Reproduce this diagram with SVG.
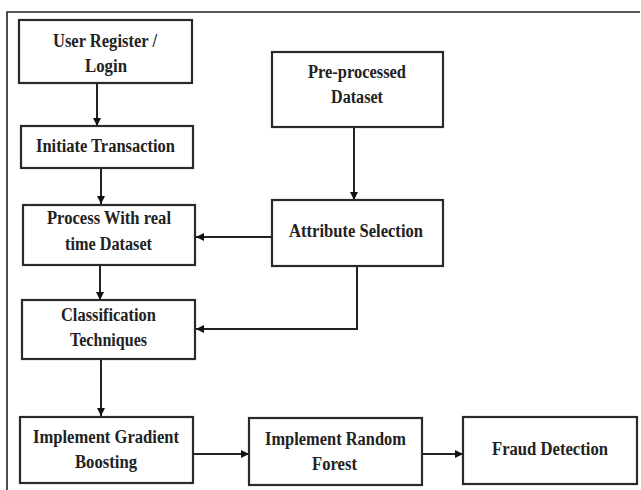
<svg xmlns="http://www.w3.org/2000/svg" width="641" height="490" viewBox="0 0 641 490">
<defs>
<style>
.box{fill:#fff;stroke:#2a2a2a;stroke-width:2.2}
.t{font-family:"Liberation Serif","Times New Roman",serif;font-weight:bold;font-size:18px;fill:#222;text-anchor:middle}
.c{fill:none;stroke:#222;stroke-width:2}
.frame{fill:none;stroke:#222;stroke-width:1.6}
</style>
<marker id="ah" viewBox="0 0 10 10" refX="10" refY="5" markerWidth="8" markerHeight="8" markerUnits="userSpaceOnUse" orient="auto">
<path d="M0,0 L10,5 L0,10 Z" fill="#111"/>
</marker>
</defs>
<rect width="641" height="490" fill="#fff"/>
<path class="frame" d="M7,490 L7,12 L640,12"/>

<g id="connectors">
<line class="c" x1="97" y1="83" x2="97" y2="126" marker-end="url(#ah)"/>
<line class="c" x1="101" y1="168" x2="101" y2="204" marker-end="url(#ah)"/>
<line class="c" x1="354" y1="127" x2="354" y2="200" marker-end="url(#ah)"/>
<line class="c" x1="272" y1="237" x2="196" y2="237" marker-end="url(#ah)"/>
<line class="c" x1="100" y1="265" x2="100" y2="300" marker-end="url(#ah)"/>
<polyline class="c" points="357,266 357,329 196,329" marker-end="url(#ah)"/>
<line class="c" x1="101" y1="359" x2="101" y2="416" marker-end="url(#ah)"/>
<line class="c" x1="193" y1="454" x2="249" y2="454" marker-end="url(#ah)"/>
<line class="c" x1="422" y1="454" x2="463" y2="454" marker-end="url(#ah)"/>
</g>

<g id="user-register">
<rect class="box" x="19" y="20" width="173" height="63"/>
<text class="t" x="105" y="47" textLength="104" lengthAdjust="spacingAndGlyphs">User Register /</text>
<text class="t" x="106" y="72" textLength="42" lengthAdjust="spacingAndGlyphs">Login</text>
</g>

<g id="initiate-transaction">
<rect class="box" x="21" y="126" width="172" height="42"/>
<text class="t" x="105.5" y="152" textLength="139" lengthAdjust="spacingAndGlyphs">Initiate Transaction</text>
</g>

<g id="process-realtime">
<rect class="box" x="23" y="205" width="172" height="60"/>
<text class="t" x="109" y="224" textLength="124" lengthAdjust="spacingAndGlyphs">Process With real</text>
<text class="t" x="108.5" y="250" textLength="87" lengthAdjust="spacingAndGlyphs">time Dataset</text>
</g>

<g id="preprocessed-dataset">
<rect class="box" x="272" y="52" width="171" height="75"/>
<text class="t" x="357" y="78" textLength="98" lengthAdjust="spacingAndGlyphs">Pre-processed</text>
<text class="t" x="357" y="103" textLength="52" lengthAdjust="spacingAndGlyphs">Dataset</text>
</g>

<g id="attribute-selection">
<rect class="box" x="272" y="200" width="171" height="66"/>
<text class="t" x="356" y="237" textLength="134" lengthAdjust="spacingAndGlyphs">Attribute Selection</text>
</g>

<g id="classification">
<rect class="box" x="22" y="300" width="173" height="59"/>
<text class="t" x="108.5" y="321" textLength="95" lengthAdjust="spacingAndGlyphs">Classification</text>
<text class="t" x="108.5" y="346" textLength="77" lengthAdjust="spacingAndGlyphs">Techniques</text>
</g>

<g id="gradient-boosting">
<rect class="box" x="20" y="417" width="173" height="66"/>
<text class="t" x="106" y="443" textLength="146" lengthAdjust="spacingAndGlyphs">Implement Gradient</text>
<text class="t" x="106" y="468" textLength="62" lengthAdjust="spacingAndGlyphs">Boosting</text>
</g>

<g id="random-forest">
<rect class="box" x="249" y="418" width="173" height="67"/>
<text class="t" x="335.5" y="445" textLength="141" lengthAdjust="spacingAndGlyphs">Implement Random</text>
<text class="t" x="334.5" y="470" textLength="45" lengthAdjust="spacingAndGlyphs">Forest</text>
</g>

<g id="fraud-detection">
<rect class="box" x="463" y="417" width="174" height="67"/>
<text class="t" x="550" y="455" textLength="116" lengthAdjust="spacingAndGlyphs">Fraud Detection</text>
</g>
</svg>
